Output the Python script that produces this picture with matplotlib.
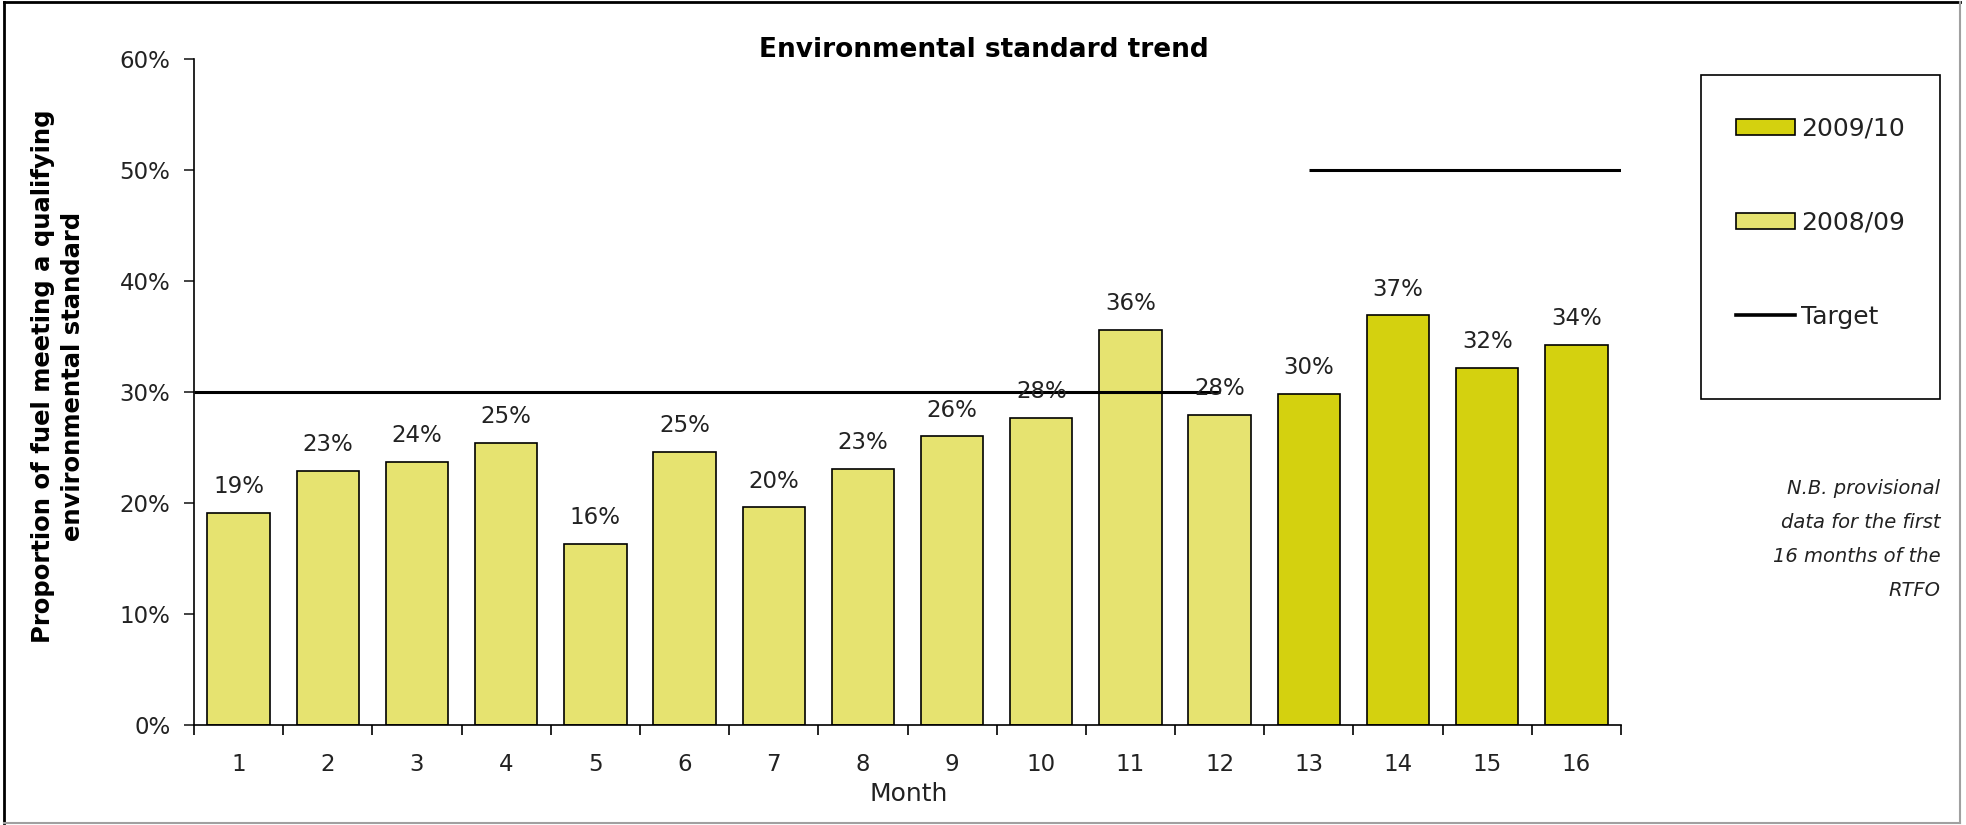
import matplotlib.pyplot as plt
from matplotlib.lines import Line2D
from matplotlib.patches import Patch, Rectangle
from matplotlib.ticker import FuncFormatter, FixedLocator


months_2008 = [1, 2, 3, 4, 5, 6, 7, 8, 9, 10, 11, 12]
share_2008 = [19.1, 22.9, 23.7, 25.4, 16.3, 24.6, 19.6, 23.1, 26.0, 27.7, 35.6, 27.9]
months_2009 = [13, 14, 15, 16]
share_2009 = [29.8, 36.9, 32.2, 34.2]

# target periods: (start month, end month) and target %
target_x = [[0.5, 12], [13, 16.5]]
target_y = [30, 50]

DARK = "#D4D10F"
LIGHT = "#E6E370"
TEXT = "#222222"


def main():
    plt.rcParams["font.family"] = "DejaVu Sans"
    fig = plt.figure(figsize=(19.66, 8.25), dpi=100)
    ax = fig.add_axes([0.0987, 0.1212, 0.7258, 0.8073])

    ax.bar(months_2008, share_2008, width=0.7, color=LIGHT, edgecolor="black", linewidth=1.2, zorder=2)
    ax.bar(months_2009, share_2009, width=0.7, color=DARK, edgecolor="black", linewidth=1.2, zorder=2)

    for xs, y in zip(target_x, target_y):
        ax.plot(xs, [y, y], color="black", linewidth=2.2, zorder=3, solid_capstyle="butt")

    for m, v in zip(months_2008 + months_2009, share_2008 + share_2009):
        ax.annotate("{:.0f}%".format(v), (m, v), xytext=(0, 19), textcoords="offset points",
                    ha="center", va="center", fontsize=16.5, color=TEXT)

    ax.set_xlim(0.5, 16.5)
    ax.set_ylim(0, 60)
    ax.set_yticks(range(0, 61, 10))
    ax.yaxis.set_major_formatter(FuncFormatter(lambda v, p: "{:.0f}%".format(v)))
    ax.tick_params(axis="y", direction="out", length=7, width=1.2, pad=10, labelsize=16.5, colors=TEXT)

    all_months = months_2008 + months_2009
    ax.xaxis.set_major_locator(FixedLocator([m - 0.5 for m in all_months] + [all_months[-1] + 0.5]))
    ax.xaxis.set_minor_locator(FixedLocator(all_months))
    ax.xaxis.set_major_formatter(FuncFormatter(lambda v, p: ""))
    ax.xaxis.set_minor_formatter(FuncFormatter(lambda v, p: "{:.0f}".format(v)))
    ax.tick_params(axis="x", which="major", direction="out", length=7, width=1.2)
    ax.tick_params(axis="x", which="minor", length=0, pad=20.5, labelsize=16.5, colors=TEXT)

    for side in ["top", "right"]:
        ax.spines[side].set_visible(False)
    for side in ["left", "bottom"]:
        ax.spines[side].set_linewidth(1.2)

    fig.text(0.5006, 0.939, "Environmental standard trend", ha="center", va="center",
             fontsize=19, fontweight="bold")
    fig.text(0.0296, 0.544, "Proportion of fuel meeting a qualifying\nenvironmental standard",
             rotation=90, ha="center", va="center", multialignment="center",
             fontsize=17.5, fontweight="bold", linespacing=1.3)
    fig.text(0.462, 0.038, "Month", ha="center", va="center", fontsize=18, color=TEXT)

    # legend box drawn separately, entries placed inside it
    fig.add_artist(Rectangle((0.8652, 0.5164), 0.1216, 0.3927, transform=fig.transFigure,
                             facecolor="none", edgecolor="black", linewidth=1.2))
    handles = [
        Patch(facecolor=DARK, edgecolor="black", linewidth=1.2),
        Patch(facecolor=LIGHT, edgecolor="black", linewidth=1.2),
        Line2D([0], [0], color="black", linewidth=2.6),
    ]
    fig.legend(handles, ["2009/10", "2008/09", "Target"], loc="upper left",
               bbox_to_anchor=(0.8652, 0.901), borderaxespad=0, fontsize=18,
               frameon=False, borderpad=1.4, labelspacing=2.8, handlelength=2.36,
               handleheight=0.6, handletextpad=0.25, labelcolor=TEXT)

    fig.text(0.987, 0.346, "N.B. provisional\ndata for the first\n16 months of the\nRTFO",
             ha="right", va="center", fontsize=14, style="italic", linespacing=2.0,
             color=TEXT)

    # outer chart frame
    fig.add_artist(Line2D([0.002, 0.002], [0.003, 0.997], transform=fig.transFigure, color="black", linewidth=2))
    fig.add_artist(Line2D([0.002, 0.997], [0.997, 0.997], transform=fig.transFigure, color="black", linewidth=2))
    fig.add_artist(Line2D([0.997, 0.997], [0.003, 0.997], transform=fig.transFigure, color="#A0A0A0", linewidth=1.5))
    fig.add_artist(Line2D([0.002, 0.997], [0.003, 0.003], transform=fig.transFigure, color="#A0A0A0", linewidth=1.5))

    fig.savefig("out.png")


if __name__ == "__main__":
    main()
